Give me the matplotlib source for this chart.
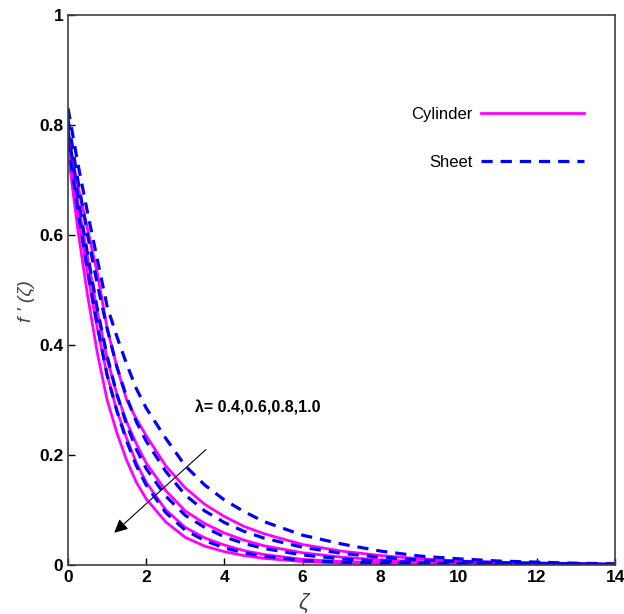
import matplotlib.pyplot as plt
from matplotlib.ticker import FormatStrFormatter

plt.rcParams["font.family"] = ["Liberation Sans", "DejaVu Sans"]

# 속도 분포 f'(zeta) : 원통(Cylinder) / 평판(Sheet), lambda = 0.4, 0.6, 0.8, 1.0
zeta = [0, 0.25, 0.5, 0.75, 1, 1.25, 1.5, 1.75, 2, 2.5, 3, 3.5, 4, 4.5, 5,
        6, 7, 8, 9, 10, 11, 12, 13, 14]

cyl_04 = [0.78, 0.69, 0.61, 0.53, 0.43, 0.36, 0.30, 0.265, 0.235, 0.18, 0.14, 0.11,
          0.088, 0.07, 0.057, 0.037, 0.025, 0.017, 0.011, 0.007, 0.005, 0.003, 0.002, 0.001]
cyl_06 = [0.77, 0.66, 0.56, 0.46, 0.375, 0.31, 0.26, 0.22, 0.185, 0.135, 0.098, 0.075,
          0.058, 0.045, 0.035, 0.022, 0.014, 0.009, 0.006, 0.004, 0.003, 0.002, 0.001, 0.001]
cyl_08 = [0.76, 0.64, 0.53, 0.43, 0.345, 0.28, 0.23, 0.185, 0.15, 0.10, 0.068, 0.049,
          0.036, 0.026, 0.019, 0.010, 0.006, 0.004, 0.002, 0.001, 0.001, 0.0005, 0.0005, 0.0005]
cyl_10 = [0.75, 0.61, 0.49, 0.385, 0.30, 0.24, 0.19, 0.15, 0.12, 0.078, 0.05, 0.034,
          0.024, 0.017, 0.012, 0.006, 0.003, 0.002, 0.001, 0.001, 0.0005, 0.0005, 0.0005, 0.0005]

sheet_04 = [0.83, 0.73, 0.64, 0.555, 0.47, 0.415, 0.365, 0.32, 0.285, 0.23, 0.18, 0.145,
            0.118, 0.097, 0.079, 0.054, 0.038, 0.025, 0.016, 0.011, 0.007, 0.005, 0.003, 0.002]
sheet_06 = [0.81, 0.70, 0.60, 0.51, 0.43, 0.36, 0.305, 0.26, 0.225, 0.17, 0.127, 0.098,
            0.077, 0.061, 0.049, 0.032, 0.021, 0.014, 0.009, 0.006, 0.004, 0.003, 0.002, 0.001]
sheet_08 = [0.79, 0.67, 0.565, 0.465, 0.38, 0.31, 0.255, 0.21, 0.175, 0.125, 0.09, 0.068,
            0.051, 0.039, 0.030, 0.018, 0.011, 0.007, 0.004, 0.003, 0.002, 0.001, 0.001, 0.0005]
sheet_10 = [0.77, 0.645, 0.535, 0.435, 0.345, 0.28, 0.225, 0.18, 0.145, 0.095, 0.063, 0.044,
            0.031, 0.022, 0.016, 0.008, 0.005, 0.003, 0.002, 0.001, 0.001, 0.0005, 0.0005, 0.0005]

cylinders = [cyl_04, cyl_06, cyl_08, cyl_10]
sheets = [sheet_04, sheet_06, sheet_08, sheet_10]
lam_text = "λ= 0.4,0.6,0.8,1.0"

fig = plt.figure(figsize=(6.24, 6.14), dpi=100)
ax = fig.add_axes([0.109, 0.08, 0.877, 0.896])

for i, c in enumerate(cylinders):
    ax.plot(zeta, c, color="#ff00ff", lw=2.0,
            label="Cylinder" if i == 0 else None)
for i, s in enumerate(sheets):
    ax.plot(zeta, s, color="#0000ff", lw=2.3, dashes=(3.5, 2.5),
            label="Sheet" if i == 0 else None)

# 화살표 + lambda 표시
ax.annotate("", xy=(1.13, 0.055), xytext=(3.58, 0.213),
            arrowprops=dict(arrowstyle="-|>", color="black", lw=0.8,
                            mutation_scale=20))
ax.text(3.25, 0.285, lam_text, fontsize=11.5, fontweight="bold",
        ha="left", va="center")

ax.set_xlim(0, 14)
ax.set_ylim(0, 1)
ax.set_xticks(range(0, 15, 2))
ax.set_yticks([0, 0.2, 0.4, 0.6, 0.8, 1])
ax.yaxis.set_major_formatter(FormatStrFormatter("%g"))
ax.tick_params(direction="in", length=5, width=1, labelsize=12.5)
for lab in ax.get_xticklabels() + ax.get_yticklabels():
    lab.set_fontweight("bold")
for sp in ax.spines.values():
    sp.set_color("#404040")
    sp.set_linewidth(1.2)

ax.set_xlabel("ζ", fontsize=16, style="italic", color="#444444")
ax.xaxis.set_label_coords(0.43, -0.05)
ax.set_ylabel("f ' (ζ)", fontsize=14, style="italic", color="#444444")
ax.yaxis.set_label_coords(-0.06, 0.48)

ax.legend(loc="upper left", bbox_to_anchor=(0.6, 0.86), frameon=False,
          markerfirst=False, handlelength=6.2, handletextpad=0.5,
          labelspacing=2.0, fontsize=12)

plt.savefig("out.png", dpi=100)
